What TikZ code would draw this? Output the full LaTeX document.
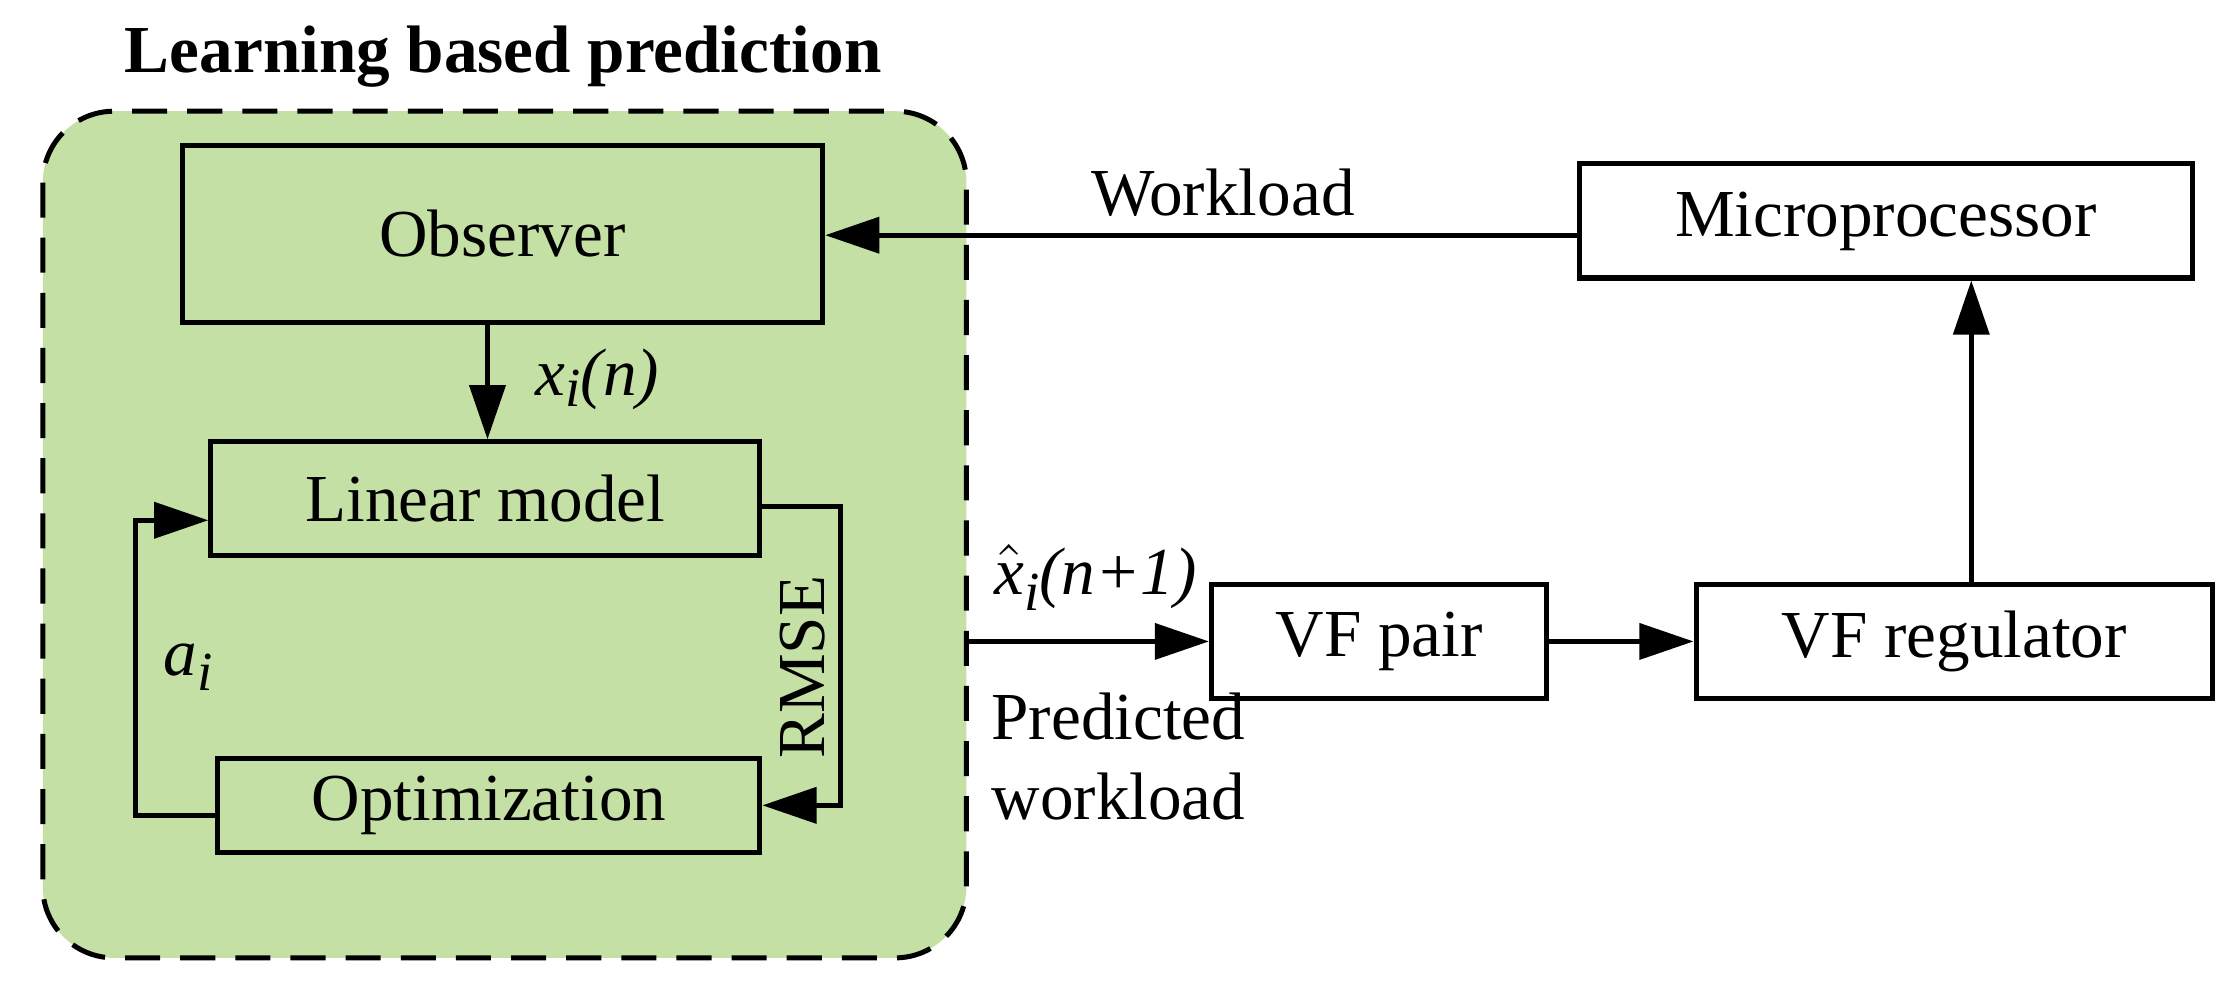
\documentclass[tikz,border=0pt]{standalone}
\usepackage{fontspec}
\setmainfont{Liberation Serif}
\usetikzlibrary{arrows.meta}
\begin{document}
\begin{tikzpicture}[x=0.01cm,y=-0.01cm,
  blk/.style={draw,line width=1pt,minimum width=#1,inner sep=0pt,font=\fontsize{13.4}{16}\selectfont},
  arr/.style={line width=1pt,-{Triangle[length=0.38cm,width=0.25cm]}},
  lbl/.style={font=\fontsize{13.4}{16}\selectfont,inner sep=0pt}]
\useasboundingbox (0,0) rectangle (1568,702);
\fill[rounded corners=0.5cm,fill={rgb,255:red,197;green,224;blue,165}] (30,78) rectangle (678,672);
\draw[rounded corners=0.5cm,line width=1pt,dash pattern=on 7pt off 4pt] (30,78) rectangle (678,672);
\node[font=\bfseries\fontsize{13.4}{16}\selectfont] (title) at (353,40) {Learning based prediction};
\node[blk=4.49cm,minimum height=1.24cm] (obs) at (352.5,164) {Observer};
\node[blk=3.85cm,minimum height=0.8cm] (lin) at (340.5,350) {Linear model};
\node[blk=3.8cm,minimum height=0.66cm] (opt) at (343,565) {Optimization};
\node[blk=4.3cm,minimum height=0.8cm] (mic) at (1323,155) {Microprocessor};
\node[blk=2.35cm,minimum height=0.8cm] (vfp) at (967.5,450) {VF pair};
\node[blk=3.62cm,minimum height=0.8cm] (vfr) at (1371,450) {VF regulator};
\draw[arr] (obs.south -| 342,0) -- (lin.north -| 342,0);
\node[lbl,anchor=west] (xin) at (375,266) {\textit{x}\raisebox{-0.35ex}{\textit{\fontsize{11}{12}\selectfont i}}\textit{(n)}};
\draw[arr] (lin.east |- 0,355) -- (590,355) -- (590,565) -- (opt.east |- 0,565);
\node[lbl,rotate=90] (rmse) at (563,468) {RMSE};
\draw[arr] (opt.west |- 0,572) -- (95,572) -- (95,365) -- (lin.west |- 0,365);
\node[lbl] (ai) at (132,468) {\textit{a}\raisebox{-0.5ex}{\textit{\fontsize{11}{12}\selectfont i}}};
\draw[arr] (mic.west |- 0,165) -- (obs.east |- 0,165);
\node[lbl] (wl) at (858,135) {Workload};
\coordinate (src) at (678,450);
\draw[arr] (src) -- (vfp.west);
\node[lbl,anchor=west] (xh) at (697,405) {$\hat{\mbox{\textit{x}}}$\raisebox{-0.5ex}{\textit{\fontsize{11}{12}\selectfont i}}\textit{(n+1)}};
\node[lbl,anchor=west,align=left] (pw) at (695,531) {Predicted\\workload};
\draw[arr] (vfp.east) -- (vfr.west);
\draw[arr] (vfr.north -| 1383,0) -- (mic.south -| 1383,0);
\end{tikzpicture}
\end{document}
